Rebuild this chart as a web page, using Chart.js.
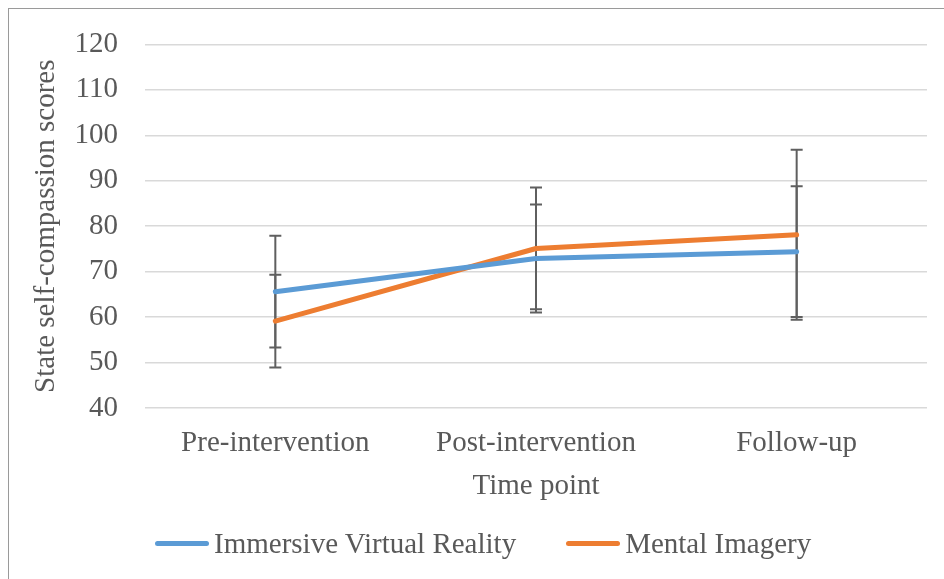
<!DOCTYPE html>
<html>
<head>
<meta charset="utf-8">
<script src="https://cdn.jsdelivr.net/npm/chart.js@4"></script>
<style>
  html, body { margin: 0; padding: 0; background: #fff; overflow: hidden; }
  #wrap { position: relative; width: 944px; height: 579px; }
  #frame {
    position: absolute; left: 8px; top: 8px; width: 1200px; height: 1200px;
    border-left: 1px solid #9a9a9a; border-top: 1px solid #9a9a9a;
  }
  #chart { position: absolute; left: 0; top: 0; }
  #legend {
    position: absolute; left: 155px; top: 527px; height: 32px;
    display: flex; align-items: center;
    font-family: "Liberation Serif", "Times New Roman", serif; font-size: 29px; color: #595959;
  }
  #legend .item { display: flex; align-items: center; margin-right: 50px; }
  #legend .swatch { width: 54px; height: 5px; border-radius: 3px; margin-right: 5px; }
</style>
</head>
<body>
<div id="wrap">
  <div id="frame"></div>
  <canvas id="chart" width="944" height="579"></canvas>
  <div id="legend"></div>
</div>
<script>
const timePoints = ['Pre-intervention', 'Post-intervention', 'Follow-up'];
const seriesNames = ['Immersive Virtual Reality', 'Mental Imagery'];
const ivrMeans = [65.6, 72.9, 74.4];
const ivrErrors = [12.3, 11.9, 14.4];
const miMeans = [59.1, 75.1, 78.1];
const miErrors = [10.2, 13.4, 18.7];
const yTicks = [40, 50, 60, 70, 80, 90, 100, 110, 120];

const textColor = '#595959';
const serif = '"Liberation Serif", "Times New Roman", serif';

// vertical error bars with caps, drawn under the lines
const errorBars = {
  id: 'errorBars',
  beforeDatasetsDraw(chart) {
    const { ctx, scales: { y } } = chart;
    ctx.save();
    ctx.strokeStyle = '#5f5f5f';
    ctx.lineWidth = 2;
    chart.data.datasets.forEach((ds, i) => {
      const meta = chart.getDatasetMeta(i);
      ds.errors.forEach((err, j) => {
        const x = meta.data[j].x;
        const top = y.getPixelForValue(ds.data[j] + err);
        const bottom = y.getPixelForValue(ds.data[j] - err);
        ctx.beginPath();
        ctx.moveTo(x, top);
        ctx.lineTo(x, bottom);
        ctx.moveTo(x - 6, top);
        ctx.lineTo(x + 6, top);
        ctx.moveTo(x - 6, bottom);
        ctx.lineTo(x + 6, bottom);
        ctx.stroke();
      });
    });
    ctx.restore();
  },
};

const chart = new Chart(document.getElementById('chart').getContext('2d'), {
  type: 'line',
  data: {
    labels: timePoints,
    datasets: [
      {
        label: seriesNames[0],
        data: ivrMeans,
        errors: ivrErrors,
        borderColor: '#5B9BD5',
        backgroundColor: '#5B9BD5',
      },
      {
        label: seriesNames[1],
        data: miMeans,
        errors: miErrors,
        borderColor: '#ED7D31',
        backgroundColor: '#ED7D31',
      },
    ],
  },
  options: {
    responsive: false,
    animation: false,
    devicePixelRatio: 1,
    layout: { padding: { left: 9, right: 17, top: 43, bottom: 71 } },
    elements: {
      line: { borderWidth: 5, tension: 0, borderCapStyle: 'round', borderJoinStyle: 'round' },
      point: { radius: 0, hoverRadius: 0 },
    },
    plugins: {
      legend: { display: false },
      tooltip: { enabled: false },
    },
    scales: {
      x: {
        offset: true,
        grid: { display: false, drawTicks: false },
        border: { display: false },
        ticks: { color: textColor, font: { family: serif, size: 29 }, padding: 18, maxRotation: 0 },
        title: {
          display: true,
          text: 'Time point',
          color: textColor,
          font: { family: serif, size: 29 },
          padding: { top: 0, bottom: 4 },
        },
        afterFit: (scale) => { scale.height = 100; },
      },
      y: {
        min: yTicks[0],
        max: yTicks[yTicks.length - 1],
        afterBuildTicks: (scale) => { scale.ticks = yTicks.map((v) => ({ value: v })); },
        grid: { color: '#d9d9d9', lineWidth: 1.5, drawTicks: false },
        border: { display: false },
        ticks: { color: textColor, font: { family: serif, size: 29 }, padding: 27 },
        title: {
          display: true,
          text: 'State self-compassion scores',
          color: textColor,
          font: { family: serif, size: 29 },
          padding: { top: 20, bottom: 0 },
        },
        afterFit: (scale) => { scale.width = 136; },
      },
    },
  },
  plugins: [errorBars],
});

// legend as plain html under the plot
const legend = document.getElementById('legend');
chart.data.datasets.forEach((ds) => {
  const item = document.createElement('div');
  item.className = 'item';
  const swatch = document.createElement('span');
  swatch.className = 'swatch';
  swatch.style.background = ds.borderColor;
  const label = document.createElement('span');
  label.textContent = ds.label;
  item.appendChild(swatch);
  item.appendChild(label);
  legend.appendChild(item);
});
</script>
</body>
</html>
